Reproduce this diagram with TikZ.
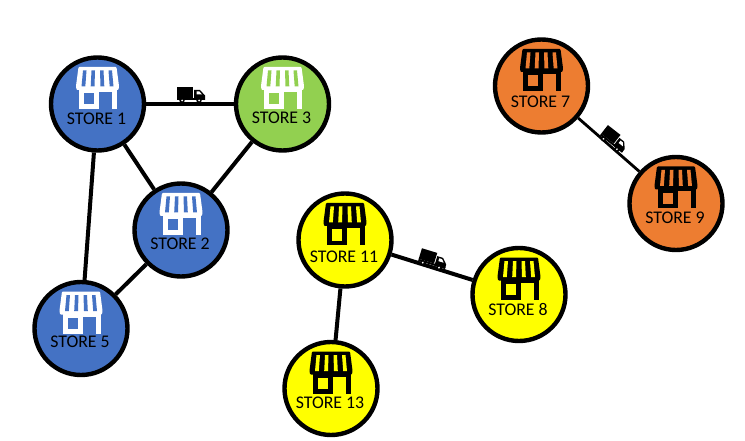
\documentclass[tikz,border=0pt]{standalone}
\usepackage{fontspec}
\setmainfont{Carlito}
\definecolor{sblue}{HTML}{4472C4}
\definecolor{sgreen}{HTML}{92D050}
\definecolor{sorange}{HTML}{ED7D31}
\definecolor{syellow}{HTML}{FFFF00}
\tikzset{
  storenode/.style={circle,draw=black,line width=4.4pt,minimum size=93pt,inner sep=0pt},
  link/.style={draw=black,line width=4pt},
  thinlink/.style={draw=black,line width=2.8pt},
  pics/shop/.style n args={2}{code={
    % awning
    \fill[#1,rounded corners=1pt] (-19,-37) -- (19,-37) -- (21.5,-18) -- (21,-14) -- (-21,-14) -- (-21.5,-18) -- cycle;
    \foreach \a/\b/\c/\d in {-14.5/-11/-16/-12.2, -6/-2.5/-6.8/-3, 2.5/6/3/6.8, 11/14.5/12.2/16}{
      \fill[#2] (\a,-33.5) -- (\b,-33.5) -- (\d,-17.5) -- (\c,-17.5) -- cycle;
    }
    % walls
    \fill[#1] (-18.5,-15) rectangle (19.5,5);
    \fill[#2] (-13.5,-10.5) rectangle (-3.5,0.5);
    \fill[#2] (1.5,-12) rectangle (14.5,5.2);
  }},
  pics/truck/.style={code={
    % local origin is the middle of the truck; wheels at the bottom
    \fill[black] (-14,-8) rectangle (2,3);
    \fill[black] (3,-5) -- (9,-5) -- (14,0.5) -- (14,5) -- (3,5) -- cycle;
    \fill[white] (5.5,-3.5) -- (8.4,-3.5) -- (11,-0.5) -- (5.5,-0.5) -- cycle;
    \fill[black] (-14,3) rectangle (14,5);
    \fill[black] (-9,5.5) circle (2.7) (8,5.5) circle (2.7);
    \fill[white] (-9,5.5) circle (1) (8,5.5) circle (1);
  }}
}
\begin{document}
\begin{tikzpicture}[x=1pt,y=-1pt]
\useasboundingbox (0,0) rectangle (745,441);
\node[storenode,fill=sblue] (s1) at (97.5,104) {};
\node[storenode,fill=sgreen] (s3) at (282.5,104) {};
\node[storenode,fill=sblue] (s2) at (181,230) {};
\node[storenode,fill=sblue] (s5) at (81,328.5) {};
\node[storenode,fill=syellow] (s11) at (345,240) {};
\node[storenode,fill=syellow] (s8) at (519,294.5) {};
\node[storenode,fill=syellow] (s13) at (331,388.5) {};
\node[storenode,fill=sorange] (s7) at (541.5,86) {};
\node[storenode,fill=sorange] (s9) at (676,203.5) {};
\draw[link] (s1) -- (s3);
\draw[link] (s1) -- (s2);
\draw[link] (s1) -- (s5);
\draw[link] (s3) -- (s2);
\draw[link] (s2) -- (s5);
\draw[link] (s11) -- (s8);
\draw[link] (s11) -- (s13);
\draw[thinlink] (s7) -- (s9);
\foreach \n/\c/\t/\k/\d in {s1/white/STORE 1/sblue/14.5, s3/white/STORE 3/sgreen/14, s2/white/STORE 2/sblue/13.5, s5/white/STORE 5/sblue/13, s11/black/STORE 11/syellow/17, s8/black/STORE 8/syellow/15, s13/black/STORE 13/syellow/14, s7/black/STORE 7/sorange/16, s9/black/STORE 9/sorange/14.5}{
  \pic at (\n.center) {shop={\c}{\k}};
  \node[font=\fontsize{17.8}{20}\selectfont,text=black,inner sep=0pt,anchor=center] (lbl\n) at ([yshift=-\d pt,xshift=-1pt]\n.center) {\t};
}
\pic at (191,95) {truck};
\pic[rotate=-38] at (614,140) {truck};
\pic[rotate=-17] at (433,260) {truck};
\end{tikzpicture}
\end{document}
